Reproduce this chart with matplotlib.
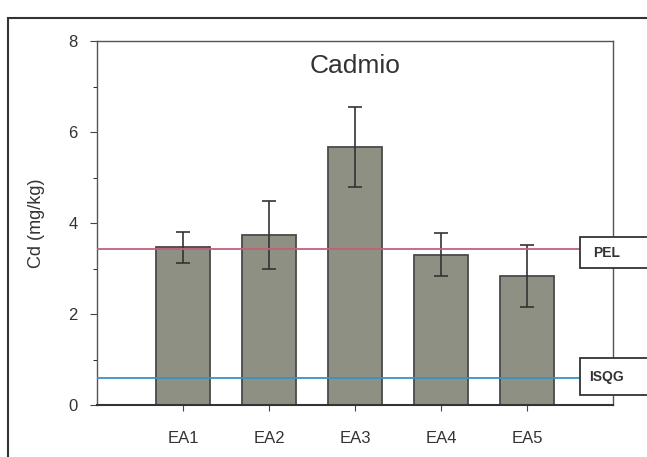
import matplotlib
matplotlib.use("Agg")
import matplotlib.pyplot as plt
from matplotlib.patches import Rectangle
from matplotlib.ticker import MultipleLocator

categories = ["EA1", "EA2", "EA3", "EA4", "EA5"]
means = [3.47, 3.74, 5.67, 3.30, 2.84]
errors = [0.34, 0.75, 0.87, 0.47, 0.68]
pel = 3.42
isqg = 0.6

plt.rcParams['font.family'] = ['Liberation Sans', 'DejaVu Sans']

fig = plt.figure(figsize=(6.47, 4.57), dpi=100)
W, H = 647, 457
L, R, T, B = 97, 613, 41, 405
ax = fig.add_axes([L / W, 1 - B / H, (R - L) / W, (B - T) / H])

pos = list(range(1, len(categories) + 1))
ax.bar(pos, means, width=0.63, color="#8f9084", edgecolor="#4a4a4a", linewidth=1.3,
       yerr=errors, capsize=5, error_kw=dict(ecolor="#333333", elinewidth=1.2, capthick=1.2),
       zorder=2)

ax.hlines(pel, 0, 5.62, color="#c4607a", linewidth=1.3, zorder=3, clip_on=False)
ax.hlines(isqg, 0, 5.62, color="#3b90c4", linewidth=1.3, zorder=3, clip_on=False)

for val, y0, y1, lab in [(pel, 3.01, 3.69, "PEL"), (isqg, 0.22, 1.03, "ISQG")]:
    rect = Rectangle((5.62, y0), 1.2, y1 - y0, facecolor="white", edgecolor="#333333",
                     linewidth=1.3, clip_on=False, zorder=5)
    ax.add_patch(rect)
    ax.text(5.92, (y0 + y1) / 2, lab, ha="center", va="center", fontsize=10,
            fontweight="bold", color="#333333", zorder=6, clip_on=False)

ax.set_xlim(0, 6)
ax.set_ylim(0, 8)
ax.set_xticks(pos)
ax.set_xticklabels(categories)
ax.yaxis.set_major_locator(MultipleLocator(2))
ax.yaxis.set_minor_locator(MultipleLocator(1))
ax.tick_params(axis="both", direction="out", labelsize=12, colors="#444444", labelcolor="#333333")
ax.tick_params(axis="x", length=4, pad=15)
ax.tick_params(axis="y", which="major", length=5, pad=9)
ax.tick_params(axis="y", which="minor", length=3)
for s in ax.spines.values():
    s.set_color("#555555")
    s.set_linewidth(1.0)
ax.spines["bottom"].set_linewidth(1.5)
ax.spines["bottom"].set_color("#333333")

ax.set_ylabel("Cd (mg/kg)", fontsize=13, color="#333333", labelpad=17)
ax.text(0.5, 0.93, "Cadmio", transform=ax.transAxes, ha="center", va="center",
        fontsize=19, color="#333333")

frame = Rectangle((8 / W, -0.1), 1.2, 1 - 18 / H + 0.1, transform=fig.transFigure,
                  facecolor="none", edgecolor="#333333", linewidth=1.5, clip_on=False)
fig.add_artist(frame)

fig.savefig("out.png", dpi=100)
